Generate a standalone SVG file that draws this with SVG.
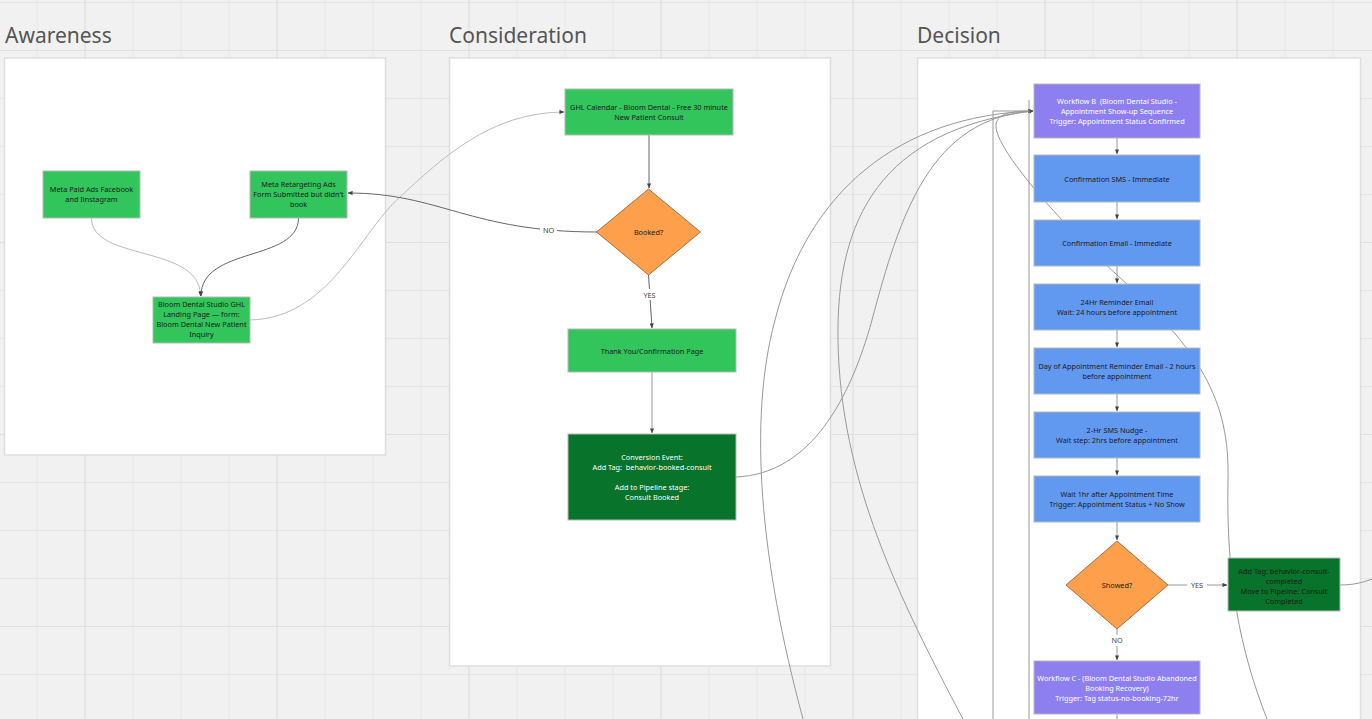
<svg xmlns="http://www.w3.org/2000/svg" width="1372" height="719" viewBox="0 0 1372 719">
<defs>
<pattern id="gMinor" patternUnits="userSpaceOnUse" x="36.5" y="2" width="48" height="48">
<path d="M0.5 0V48M0 0.5H48" stroke="#e6e6e6" stroke-width="1" fill="none"/>
</pattern>
<pattern id="gMajor" patternUnits="userSpaceOnUse" x="84.5" y="50" width="192" height="192">
<path d="M0.5 0V192M0 0.5H192" stroke="#e0e0e0" stroke-width="1.2" fill="none"/>
</pattern>
<marker id="arr" viewBox="0 0 6 6" refX="5.5" refY="3" markerWidth="5" markerHeight="5" orient="auto" markerUnits="userSpaceOnUse">
<path d="M0 0.5L6 3L0 5.5Z" fill="#444"/>
</marker>
<style>
.panel{fill:#fff;stroke:#dedede;stroke-width:1.5}
.title{font-family:"Noto Sans","Open Sans",sans-serif;font-size:21px;fill:#555}
.n{stroke:#b8b8b8;stroke-width:1}
.green{fill:#31c55c}
.dkgreen{fill:#08732a}
.purple{fill:#8e7ff0}
.blue{fill:#6299f0}
.orange{fill:#fd9f4b;stroke:#8a5a2e;stroke-width:0.8}
.t{font-family:"Noto Sans","Open Sans",sans-serif;font-size:7.3px;fill:#1a1a1a;text-anchor:middle}
.w{fill:#ffffff}
.lbl{font-family:"Noto Sans","Open Sans",sans-serif;font-size:7.3px;fill:#444;text-anchor:middle}
.c{fill:none;stroke:#999;stroke-width:1}
.cl{fill:none;stroke:#bcbcbc;stroke-width:1}
.cd{fill:none;stroke:#666;stroke-width:1}
</style>
</defs>
<rect width="1372" height="719" fill="#f1f1f1"/>
<rect width="1372" height="719" fill="url(#gMinor)"/>
<rect width="1372" height="719" fill="url(#gMajor)"/>

<g id="panel-awareness">
<text class="title" x="5" y="43">Awareness</text>
<rect class="panel" x="4.5" y="58" width="381" height="397"/>
</g>
<g id="panel-consideration">
<text class="title" x="449" y="43">Consideration</text>
<rect class="panel" x="449.5" y="58" width="381" height="608"/>
</g>
<g id="panel-decision">
<text class="title" x="917" y="43">Decision</text>
<rect class="panel" x="917.5" y="58" width="443" height="670"/>
</g>

<g id="connectors">
<path class="cl" d="M91.5 218C91.5 262 200.5 244 200.5 296" marker-end="url(#arr)"/>
<path class="cd" d="M298.5 218C298.5 262 201 246 201 296" marker-end="url(#arr)"/>
<path class="cl" d="M250 320C330 318 360 232 400 197C440 160 490 112 564 112" marker-end="url(#arr)"/>
<path class="cd" d="M649 135V188" marker-end="url(#arr)"/>
<path class="cd" d="M597 232C470 232 440 193 348 193" marker-end="url(#arr)"/>
<path class="cd" d="M648.5 275L652 328" marker-end="url(#arr)"/>
<path class="c" d="M652 372V433" marker-end="url(#arr)"/>
<path class="c" d="M736 477C810 474 850 400 872 320C900 215 930 118 1033 111" marker-end="url(#arr)"/>
<path class="c" d="M803 719C760 560 748 420 775 320C808 190 900 116 1033 111" marker-end="url(#arr)"/>
<path class="c" d="M963 719C900 600 840 480 838 340C836 220 880 130 1033 111" marker-end="url(#arr)"/>
<path class="c" d="M1267 719C1240 650 1226 580 1228 480C1230 400 1200 350 1117 275C1060 222 996 150 996 126C996 114 1010 111 1033 111" marker-end="url(#arr)"/>
<path class="c" d="M993 719V111H1033" marker-end="url(#arr)"/>
<path class="c" d="M1029 719V100"/>
<path class="c" d="M1117 138V154" marker-end="url(#arr)"/>
<path class="c" d="M1117 202V219" marker-end="url(#arr)"/>
<path class="c" d="M1117 266V283" marker-end="url(#arr)"/>
<path class="c" d="M1117 330V347" marker-end="url(#arr)"/>
<path class="c" d="M1117 394V411" marker-end="url(#arr)"/>
<path class="c" d="M1117 458V475" marker-end="url(#arr)"/>
<path class="c" d="M1117 522V540" marker-end="url(#arr)"/>
<path class="c" d="M1168 585H1227" marker-end="url(#arr)"/>
<path class="c" d="M1117 629V660" marker-end="url(#arr)"/>
<path class="c" d="M1117 714V719"/>
<path class="c" d="M1340 585C1355 585 1364 582 1372 579"/>
<rect x="540" y="225" width="17" height="11" fill="#fff"/>
<text class="lbl" x="548.5" y="233">NO</text>
<rect x="640" y="289" width="18" height="11" fill="#fff"/>
<text class="lbl" x="649.5" y="297.5">YES</text>
<rect x="1187" y="579" width="20" height="11" fill="#fff"/>
<text class="lbl" x="1197" y="588">YES</text>
<rect x="1109" y="635" width="17" height="11" fill="#fff"/>
<text class="lbl" x="1117" y="643">NO</text>
</g>

<g id="meta-paid-ads">
<rect class="n green" x="43" y="171" width="97" height="47"/>
<text class="t" x="91.5" y="192">Meta Paid Ads Facebook</text>
<text class="t" x="91.5" y="202">and Iinstagram</text>
</g>
<g id="meta-retargeting">
<rect class="n green" x="250" y="171" width="97" height="47"/>
<text class="t" x="298.5" y="187">Meta Retargeting Ads</text>
<text class="t" x="298.5" y="197">Form Submitted but didn't</text>
<text class="t" x="298.5" y="207">book</text>
</g>
<g id="landing-page">
<rect class="n green" x="153" y="297" width="97" height="46"/>
<text class="t" x="201.5" y="307">Bloom Dental Studio GHL</text>
<text class="t" x="201.5" y="317">Landing Page — form:</text>
<text class="t" x="201.5" y="327">Bloom Dental New Patient</text>
<text class="t" x="201.5" y="337">Inquiry</text>
</g>

<g id="ghl-calendar">
<rect class="n green" x="565" y="89" width="168" height="46"/>
<text class="t" x="649" y="110">GHL Calendar - Bloom Dental - Free 30 minute</text>
<text class="t" x="649" y="120">New Patient Consult</text>
</g>
<g id="booked">
<path class="orange" d="M648.5 189L700.5 232L648.5 275L596.5 232Z"/>
<text class="t" x="648.5" y="235">Booked?</text>
</g>
<g id="thank-you">
<rect class="n green" x="568" y="329" width="168" height="43"/>
<text class="t" x="652" y="353.5">Thank You/Confirmation Page</text>
</g>
<g id="conversion-event">
<rect class="n dkgreen" x="568" y="434" width="168" height="86"/>
<text class="t w" x="652" y="460">Conversion Event:</text>
<text class="t w" x="652" y="470" xml:space="preserve">Add Tag:  behavior-booked-consult</text>
<text class="t w" x="652" y="490">Add to Pipeline stage:</text>
<text class="t w" x="652" y="500">Consult Booked</text>
</g>

<g id="workflow-b">
<rect class="n purple" x="1034" y="84" width="166" height="54"/>
<text class="t w" x="1117" y="104" xml:space="preserve">Workflow B  (Bloom Dental Studio -</text>
<text class="t w" x="1117" y="114">Appointment Show-up Sequence</text>
<text class="t w" x="1117" y="124">Trigger: Appointment Status Confirmed</text>
</g>
<g id="confirmation-sms">
<rect class="n blue" x="1034" y="155" width="166" height="47"/>
<text class="t" x="1117" y="181.5">Confirmation SMS - Immediate</text>
</g>
<g id="confirmation-email">
<rect class="n blue" x="1034" y="220" width="166" height="46"/>
<text class="t" x="1117" y="246">Confirmation Email - Immediate</text>
</g>
<g id="reminder-24hr">
<rect class="n blue" x="1034" y="284" width="166" height="46"/>
<text class="t" x="1117" y="305">24Hr Reminder Email</text>
<text class="t" x="1117" y="315">Wait: 24 hours before appointment</text>
</g>
<g id="day-of-reminder">
<rect class="n blue" x="1034" y="348" width="166" height="46"/>
<text class="t" x="1117" y="369">Day of Appointment Reminder Email - 2 hours</text>
<text class="t" x="1117" y="379">before appointment</text>
</g>
<g id="sms-nudge">
<rect class="n blue" x="1034" y="412" width="166" height="46"/>
<text class="t" x="1117" y="433">2-Hr SMS Nudge -</text>
<text class="t" x="1117" y="443">Wait step: 2hrs before appointment</text>
</g>
<g id="wait-1hr">
<rect class="n blue" x="1034" y="476" width="166" height="46"/>
<text class="t" x="1117" y="497">Wait 1hr after Appointment Time</text>
<text class="t" x="1117" y="507">Trigger: Appointment Status + No Show</text>
</g>
<g id="showed">
<path class="orange" d="M1117 541L1168 585L1117 629L1066 585Z"/>
<text class="t" x="1117" y="588">Showed?</text>
</g>
<g id="add-tag-completed">
<rect class="n dkgreen" x="1228" y="558" width="112" height="53"/>
<text class="t" x="1284" y="573.5">Add Tag: behavior-consult-</text>
<text class="t" x="1284" y="583.5">completed</text>
<text class="t" x="1284" y="593.5">Move to Pipeline: Consult</text>
<text class="t" x="1284" y="603.5">Completed</text>
</g>
<g id="workflow-c">
<rect class="n purple" x="1034" y="661" width="166" height="53"/>
<text class="t w" x="1117" y="680.5">Workflow C - (Bloom Dental Studio Abandoned</text>
<text class="t w" x="1117" y="690.5">Booking Recovery)</text>
<text class="t w" x="1117" y="700.5">Trigger: Tag status-no-booking-72hr</text>
</g>
</svg>
